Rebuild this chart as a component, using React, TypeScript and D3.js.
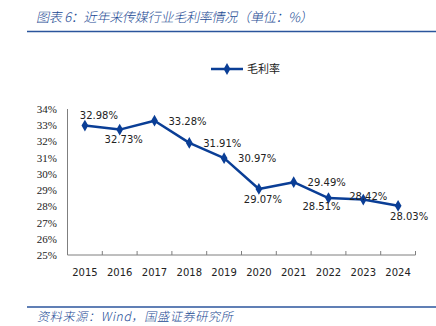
import React from "react";
import * as d3 from "d3";

const years = ["2015", "2016", "2017", "2018", "2019", "2020", "2021", "2022", "2023", "2024"];
const grossMargin = [32.98, 32.73, 33.28, 31.91, 30.97, 29.07, 29.49, 28.51, 28.42, 28.03];
const yTicks = [25, 26, 27, 28, 29, 30, 31, 32, 33, 34];
const labelPlacement = ["aboveRight", "below", "right", "right", "right", "below", "right", "belowLeft", "above", "belowRight"];

const W = 436;
const H = 326;
const BLUE = "#0A3E96";
const TITLE_BLUE = "#1B4A94";

export default function App() {
  const x = d3.scaleBand<string>().domain(years).range([67.5, 415.5]);
  const y = d3.scaleLinear().domain([25, 34]).range([255, 109]);
  const cx = (d: string) => (x(d) as number) + x.bandwidth() / 2;

  const line = d3
    .line<number>()
    .x((_, i) => cx(years[i]))
    .y((v) => y(v));

  const diamond = d3.symbol().type(d3.symbolDiamond).size(40)() as string;

  const labelPos = (p: string, px: number, py: number) => {
    switch (p) {
      case "aboveRight":
        return { x: px + 14, y: py - 10 };
      case "below":
        return { x: px + 4, y: py + 10 };
      case "right":
        return { x: px + 33, y: py + 0.5 };
      case "belowLeft":
        return { x: px - 7, y: py + 8 };
      case "above":
        return { x: px + 5, y: py - 3.5 };
      case "belowRight":
        return { x: px + 11, y: py + 10 };
      default:
        return { x: px, y: py };
    }
  };

  return (
    <svg width={W} height={H} style={{ position: "absolute", left: 0, top: 0, background: "#fff" }}>
      <text
        x={36}
        y={22}
        fill={TITLE_BLUE}
        fontFamily="'Noto Sans CJK SC', sans-serif"
        fontWeight={300}
        fontSize={13.2}
        textLength={277}
        lengthAdjust="spacing"
        style={{ transform: "skewX(-12deg)", transformOrigin: "36px 22px" }}
      >
        图表 6：近年来传媒行业毛利率情况（单位：%）
      </text>
      <line x1={27} x2={436} y1={31.5} y2={31.5} stroke="#2B559C" strokeWidth={1.5} />

      {/* legend */}
      <line x1={211} x2={243} y1={69} y2={69} stroke={BLUE} strokeWidth={2.5} />
      <path d={diamond} transform="translate(227,69)" fill={BLUE} />
      <text x={247} y={73} fontSize={11} fontFamily="'Noto Sans CJK SC', serif" fill="#222">
        毛利率
      </text>

      {/* y axis */}
      <line x1={67.5} x2={67.5} y1={109} y2={255} stroke="#7f7f7f" strokeWidth={1} />
      {yTicks.map((t) => (
        <text
          key={t}
          x={57}
          y={y(t) + 4}
          textAnchor="end"
          fontSize={11}
          fontFamily="'Liberation Serif', serif"
          fill="#222"
        >
          {t}%
        </text>
      ))}

      {/* x axis */}
      <line x1={67.5} x2={415.5} y1={255} y2={255} stroke="#7f7f7f" strokeWidth={1} />
      {years.map((yr) => (
        <line
          key={"t" + yr}
          x1={(x(yr) as number) + x.bandwidth()}
          x2={(x(yr) as number) + x.bandwidth()}
          y1={251}
          y2={255}
          stroke="#7f7f7f"
        />
      ))}
      {years.map((yr) => (
        <text
          key={yr}
          x={cx(yr)}
          y={275.5}
          textAnchor="middle"
          fontSize={10}
          fontFamily="'DejaVu Sans', sans-serif"
          fill="#222"
        >
          {yr}
        </text>
      ))}

      {/* line */}
      <path d={line(grossMargin) as string} fill="none" stroke={BLUE} strokeWidth={2.5} strokeLinejoin="round" />
      {grossMargin.map((v, i) => (
        <path key={"m" + i} d={diamond} transform={`translate(${cx(years[i])},${y(v)})`} fill={BLUE} />
      ))}
      {grossMargin.map((v, i) => {
        const p = labelPos(labelPlacement[i], cx(years[i]), y(v));
        return (
          <text
            key={"l" + i}
            x={p.x}
            y={p.y + 3.8}
            textAnchor="middle"
            fontSize={10}
            fontFamily="'DejaVu Sans', sans-serif"
            fill="#222"
          >
            {v.toFixed(2)}%
          </text>
        );
      })}

      {/* footer */}
      <line x1={27} x2={436} y1={307} y2={307} stroke="#2B559C" strokeWidth={1.5} />
      <text
        x={37}
        y={321}
        fill={TITLE_BLUE}
        fontFamily="'Noto Sans CJK SC', sans-serif"
        fontWeight={300}
        fontSize={12.2}
        textLength={196}
        lengthAdjust="spacing"
        style={{ transform: "skewX(-12deg)", transformOrigin: "37px 321px" }}
      >
        资料来源：Wind，国盛证券研究所
      </text>
    </svg>
  );
}
